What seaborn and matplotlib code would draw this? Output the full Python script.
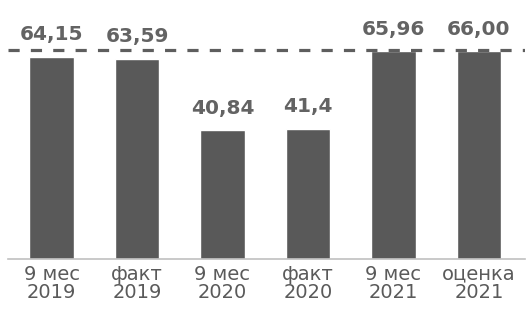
import matplotlib
matplotlib.use("Agg")
import matplotlib.pyplot as plt
import seaborn as sns
import pandas as pd

categories = ["9 мес\n2019", "факт\n2019", "9 мес\n2020", "факт\n2020", "9 мес\n2021", "оценка\n2021"]
values = [64.15, 63.59, 40.84, 41.4, 65.96, 66.00]
labels = ["64,15", "63,59", "40,84", "41,4", "65,96", "66,00"]
ref_level = 66.2

sns.set_theme(style="white")
plt.rcParams['font.family'] = ['DejaVu Sans']

df = pd.DataFrame({"cat": categories, "val": values})

fig = plt.figure(figsize=(5.31, 3.16), dpi=100)
ax = fig.add_axes([8/531, (316-259)/316, (525-8)/531, 259/316])
sns.barplot(data=df, x="cat", y="val", color="#595959", width=0.52, ax=ax, saturation=1)

ax.set_ylim(0, 82.2)
ax.set_xlim(-0.51, 5.54)
ax.axhline(ref_level, color="#5e5e5e", lw=2.3, ls=(0, (3.5, 3.5)), zorder=3)

for i, (v, lab) in enumerate(zip(values, labels)):
    ax.text(i, v + 5.2, lab, ha="center", va="baseline", fontsize=14.5,
            fontweight="bold", color="#636363")

ax.set_xlabel("")
ax.set_ylabel("")
ax.set_yticks([])
for s in ["top", "right", "left"]:
    ax.spines[s].set_visible(False)
ax.spines["bottom"].set_color("#c0c0c0")
ax.spines["bottom"].set_linewidth(1.2)
ax.tick_params(axis="x", length=0, labelsize=14, colors="#5a5a5a", pad=4)
for t in ax.get_xticklabels():
    t.set_linespacing(0.95)

fig.savefig("out.png", dpi=100)
